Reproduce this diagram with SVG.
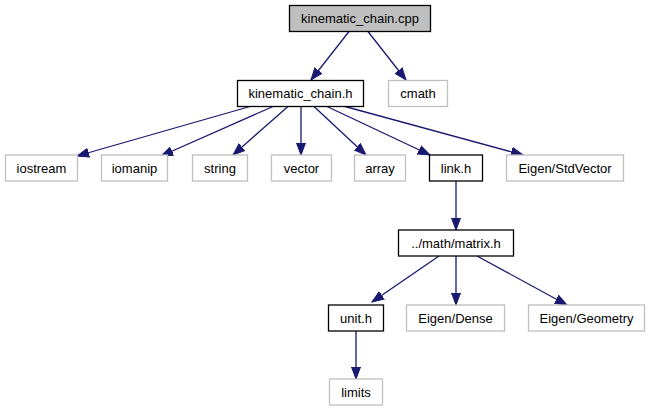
<svg xmlns="http://www.w3.org/2000/svg" width="649" height="411" viewBox="0 0 649 411">
<style>
.bg{fill:#ffffff}
.node rect{fill:#ffffff;stroke:#000000;stroke-width:1.3}
.node.ext rect{stroke:#bfbfbf}
.node.root rect{fill:#bfbfbf}
.node text{font-family:"Liberation Sans",Arial,Helvetica,sans-serif;font-size:13px;fill:#000000;text-anchor:middle}
.edge{stroke:#191970;stroke-width:1.3;fill:none;marker-end:url(#ah)}
</style>
<defs>
<marker id="ah" markerUnits="userSpaceOnUse" markerWidth="13" markerHeight="11" viewBox="0 -5.5 13 11" refX="12" refY="0" orient="auto">
<path d="M0,-4.5 L12,0 L0,4.5 z" fill="#191970" stroke="#191970" stroke-width="1"/>
</marker>
</defs>
<rect class="bg" x="0" y="0" width="649" height="411"/>
<g id="edges">
<path class="edge" d="M349,31.5 L311,80"/>
<path class="edge" d="M368,31.5 L406,80"/>
<path class="edge" d="M250,106.5 L77,156"/>
<path class="edge" d="M273,106.5 L161,156"/>
<path class="edge" d="M288,106.5 L233,155"/>
<path class="edge" d="M301,106.5 L301,155"/>
<path class="edge" d="M314,106.5 L366,155"/>
<path class="edge" d="M327,106.5 L430,155"/>
<path class="edge" d="M345,106.5 L523,155"/>
<path class="edge" d="M456,181 L456,230"/>
<path class="edge" d="M439,256 L372,302"/>
<path class="edge" d="M456,256 L456,305"/>
<path class="edge" d="M477,256 L567,305"/>
<path class="edge" d="M356,331 L356,379"/>
</g>
<g id="kinematic_chain_cpp" class="node root"><rect x="289.5" y="5.5" width="141" height="26"/><text x="360" y="23">kinematic_chain.cpp</text></g>
<g id="kinematic_chain_h" class="node"><rect x="237.5" y="80.5" width="126" height="26"/><text x="300.5" y="98">kinematic_chain.h</text></g>
<g id="cmath" class="node ext"><rect x="388.5" y="80.5" width="59" height="26"/><text x="418" y="98">cmath</text></g>
<g id="iostream" class="node ext"><rect x="5.5" y="155" width="72" height="26"/><text x="41.5" y="172.5">iostream</text></g>
<g id="iomanip" class="node ext"><rect x="101.5" y="155" width="66" height="26"/><text x="134.5" y="172.5">iomanip</text></g>
<g id="string" class="node ext"><rect x="192.5" y="155" width="55" height="26"/><text x="220" y="172.5">string</text></g>
<g id="vector" class="node ext"><rect x="271.5" y="155" width="60" height="26"/><text x="301.5" y="172.5">vector</text></g>
<g id="array" class="node ext"><rect x="354.5" y="155" width="51" height="26"/><text x="380" y="172.5">array</text></g>
<g id="link_h" class="node"><rect x="429.5" y="155" width="53" height="26"/><text x="456" y="172.5">link.h</text></g>
<g id="eigen_stdvector" class="node ext"><rect x="506.5" y="155" width="117" height="26"/><text x="565" y="172.5">Eigen/StdVector</text></g>
<g id="matrix_h" class="node"><rect x="398.5" y="230" width="115" height="26"/><text x="456" y="247.5">../math/matrix.h</text></g>
<g id="unit_h" class="node"><rect x="328.5" y="305" width="55" height="26"/><text x="356" y="322.5">unit.h</text></g>
<g id="eigen_dense" class="node ext"><rect x="406.5" y="305" width="98" height="26"/><text x="455.5" y="322.5">Eigen/Dense</text></g>
<g id="eigen_geometry" class="node ext"><rect x="528.5" y="305" width="116" height="26"/><text x="586.5" y="322.5">Eigen/Geometry</text></g>
<g id="limits" class="node ext"><rect x="329.5" y="379" width="53" height="26"/><text x="356" y="396.5">limits</text></g>
</svg>
